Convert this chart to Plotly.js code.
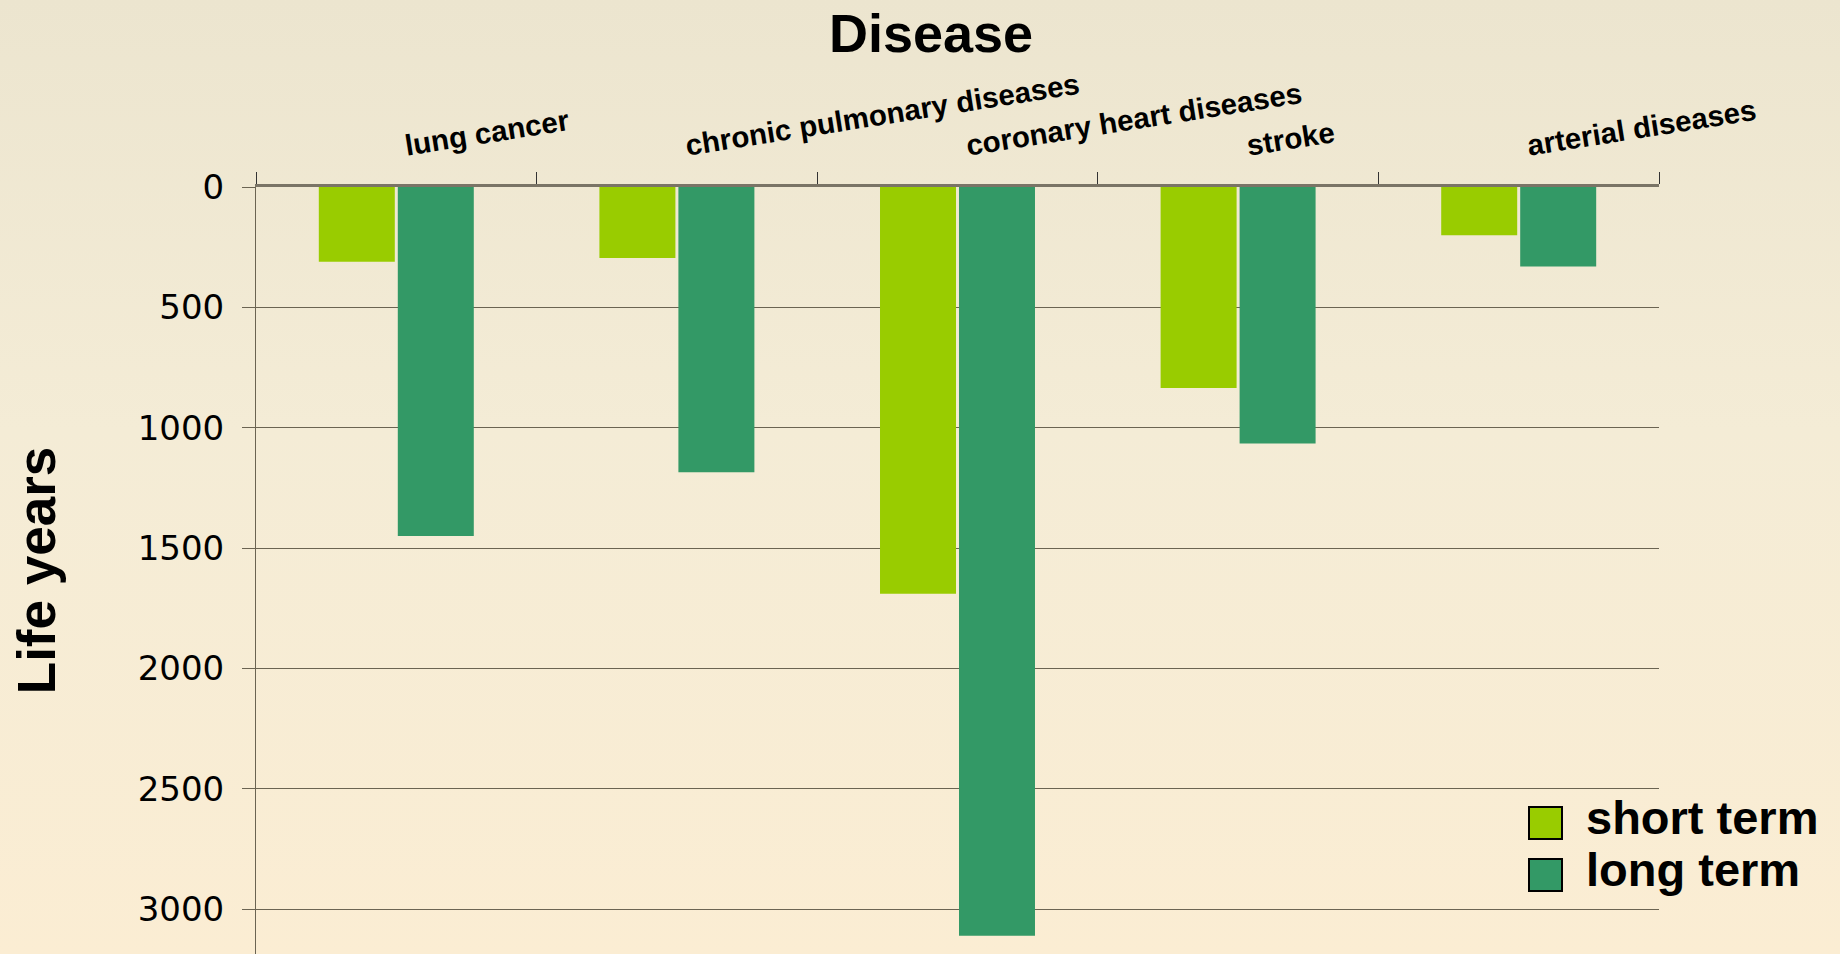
<!DOCTYPE html>
<html>
<head>
<meta charset="utf-8">
<script src="https://cdn.plot.ly/plotly-3.0.1.min.js"></script>
<style>
  html, body { margin:0; padding:0; width:1840px; height:954px; overflow:hidden;
    background: linear-gradient(to bottom, #ECE5CF 0%, #F4ECD6 45%, #FBEDD3 100%); }
  #chart { width:1840px; height:954px; }
</style>
</head>
<body>
<div id="chart"></div>
<script>
// ---- data ----
const categories = ['lung cancer', 'chronic pulmonary diseases', 'coronary heart diseases', 'stroke', 'arterial diseases'];
const shortTerm = [310, 295, 1690, 835, 200];
const longTerm = [1450, 1185, 3110, 1065, 330];
const seriesNames = ['short term', 'long term'];
const seriesColors = ['#99CC00', '#339966'];
const chartTitle = 'Disease';
const yTitle = 'Life years';

// ---- layout geometry ----
const W = 1840, H = 954;
const M = {l: 256, r: 181, t: 187, b: 0};
const plotW = W - M.l - M.r, plotH = H - M.t - M.b;
const px2x = px => (px - M.l) / plotW;
const px2y = py => 1 - (py - M.t) / plotH;

const traces = [
  {type: 'bar', name: seriesNames[0], x: categories, y: shortTerm,
   marker: {color: seriesColors[0]}, showlegend: false, hoverinfo: 'x+y+name'},
  {type: 'bar', name: seriesNames[1], x: categories, y: longTerm,
   marker: {color: seriesColors[1]}, showlegend: false, hoverinfo: 'x+y+name'}
];

const gridCol = '#6B6452';
const shapes = [], annotations = [];
const legendTop = [807, 859];
seriesNames.forEach((nm, i) => {
  shapes.push({type: 'rect', xref: 'paper', yref: 'paper',
    x0: px2x(1529), x1: px2x(1562), y0: px2y(legendTop[i]), y1: px2y(legendTop[i] + 32),
    fillcolor: seriesColors[i], line: {color: '#000', width: 2}});
  annotations.push({xref: 'paper', yref: 'paper', x: px2x(1584), y: px2y(legendTop[i] + 10),
    xanchor: 'left', yanchor: 'middle', showarrow: false, text: nm,
    font: {family: 'Liberation Sans, Arial, sans-serif', size: 47, weight: 'bold', color: '#000'}});
});

const layout = {
  width: W, height: H,
  margin: M,
  paper_bgcolor: 'rgba(0,0,0,0)',
  plot_bgcolor: 'rgba(0,0,0,0)',
  barmode: 'group',
  bargap: 0.437,
  bargroupgap: 0.038,
  showlegend: false,
  title: {text: chartTitle, xref: 'container', yref: 'container', x: 931 / W, xanchor: 'center',
    y: 1 - 33 / H, yanchor: 'middle',
    font: {family: 'Liberation Sans, Arial, sans-serif', size: 54, weight: 'bold', color: '#000'}},
  xaxis: {
    type: 'category', side: 'top', tickson: 'boundaries', ticks: 'outside', ticklen: 12,
    tickcolor: '#333', tickwidth: 1,
    tickvals: categories,
    ticktext: categories.map(c => '\u00A0' + c),
    showline: true, linecolor: '#7A7466', linewidth: 3,
    showgrid: false, zeroline: false,
    tickangle: -9,
    tickfont: {family: 'Liberation Sans, Arial, sans-serif', size: 29.5, weight: 'bold', color: '#000'},
    ticklabelstandoff: 15,
    automargin: false
  },
  yaxis: {
    range: [3186, 0], dtick: 500, tick0: 0,
    ticks: 'outside', ticklen: 13, tickcolor: gridCol, tickwidth: 1,
    showgrid: true, gridcolor: gridCol, gridwidth: 1,
    showline: true, linecolor: gridCol, linewidth: 1,
    zeroline: false,
    tickfont: {family: 'DejaVu Sans, Verdana, sans-serif', size: 34, color: '#000'},
    ticklabelstandoff: 11,
    title: {text: yTitle, standoff: 65,
      font: {family: 'Liberation Sans, Arial, sans-serif', size: 53, weight: 'bold', color: '#000'}},
    automargin: false
  },
  shapes: shapes,
  annotations: annotations
};

Plotly.newPlot('chart', traces, layout, {displayModeBar: false, staticPlot: true});
</script>
</body>
</html>
